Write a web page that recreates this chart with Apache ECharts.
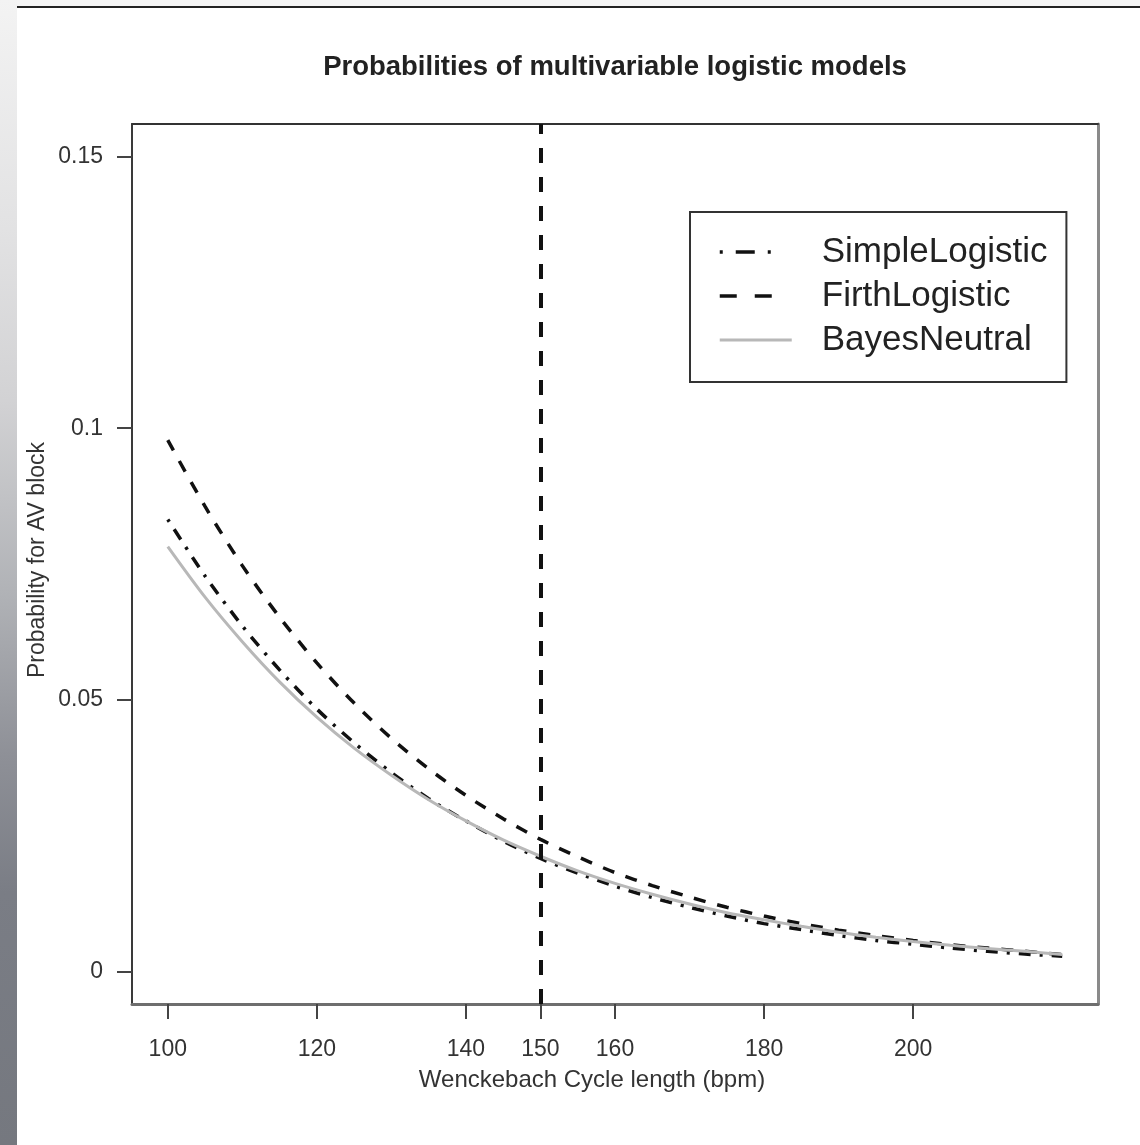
<!DOCTYPE html>
<html>
<head>
<meta charset="utf-8">
<script src="https://cdn.jsdelivr.net/npm/echarts@6/dist/echarts.min.js"></script>
<style>
  html, body { margin: 0; padding: 0; width: 1140px; height: 1145px; overflow: hidden; background: #f4f4f4; }
  #strip { position: absolute; left: 0; top: 0; width: 17px; height: 1145px;
    background: linear-gradient(to bottom, #f3f3f3 0%, #e2e2e3 20%, #d2d2d4 35%, #b0b2b6 52%, #8e9097 66%, #7a7d85 78%, #75787f 100%); }
  #paper { position: absolute; left: 17px; top: 6px; width: 1123px; height: 1139px; background: #ffffff; border-top: 2px solid #222; box-sizing: border-box; }
  #chart { position: absolute; left: 0; top: 0; width: 1140px; height: 1145px; }
</style>
</head>
<body>
<div id="strip"></div>
<div id="paper"></div>
<div id="chart"></div>
<script>
// ---- data ----
const xValues = [100,105,110,115,120,125,130,135,140,145,150,155,160,165,170,175,180,185,190,195,200,205,210,215,220];
const simpleLogistic = [0.0832,0.0728,0.0636,0.0555,0.0483,0.0421,0.0366,0.0318,0.0277,0.0240,0.0208,0.0181,0.0157,0.0136,0.0118,0.0102,0.0088,0.0077,0.0066,0.0057,0.0050,0.0043,0.0037,0.0032,0.0028];
const firthLogistic  = [0.0978,0.0856,0.0747,0.0652,0.0568,0.0494,0.0429,0.0373,0.0324,0.0281,0.0243,0.0211,0.0182,0.0158,0.0137,0.0118,0.0102,0.0088,0.0076,0.0066,0.0057,0.0049,0.0043,0.0037,0.0031];
const bayesNeutral   = [0.0782,0.0689,0.0607,0.0533,0.0468,0.0411,0.0361,0.0316,0.0277,0.0242,0.0212,0.0185,0.0162,0.0142,0.0124,0.0108,0.0095,0.0083,0.0072,0.0063,0.0055,0.0048,0.0042,0.0037,0.0031];
const xTicks = [100,120,140,150,160,180,200];
const yTicks = [0,0.05,0.1,0.15];
const cutoff = 150;
const seriesNames = ['SimpleLogistic','FirthLogistic','BayesNeutral'];
const titleText = 'Probabilities of multivariable logistic models';
const xTitle = 'Wenckebach Cycle length (bpm)';
const yTitle = 'Probability for AV block';

const pairs = arr => xValues.map((x, i) => [x, arr[i]]);
const FONT = '"Liberation Sans", Arial, Helvetica, sans-serif';

const chart = echarts.init(document.getElementById('chart'), null, { renderer: 'canvas' });
const axisBase = { type: 'value', splitLine: { show: false } };
const hiddenSymbol = { opacity: 0, borderWidth: 0 };

chart.setOption({
  animation: false,
  backgroundColor: 'transparent',
  grid: { left: 132, top: 124, width: 966, height: 880, containLabel: false, outerBoundsMode: 'none' },
  xAxis: [
    Object.assign({}, axisBase, {
      position: 'bottom', min: 95.2, max: 224.8,
      axisLine: { show: true, onZero: false, lineStyle: { color: '#6e6e6e', width: 3 } },
      axisTick: { show: true, inside: false, length: 15, customValues: xTicks, lineStyle: { color: '#444', width: 2 } },
      axisLabel: { show: true, customValues: xTicks, margin: 34, fontSize: 23, color: '#333', fontFamily: FONT }
    }),
    Object.assign({}, axisBase, {
      position: 'top', min: 95.2, max: 224.8,
      axisLine: { show: true, onZero: false, lineStyle: { color: '#333', width: 2 } },
      axisTick: { show: false }, axisLabel: { show: false }
    })
  ],
  yAxis: [
    Object.assign({}, axisBase, {
      position: 'left', min: -0.006, max: 0.156,
      axisLine: { show: true, onZero: false, lineStyle: { color: '#3a3a3a', width: 2 } },
      axisTick: { show: true, inside: false, length: 15, customValues: yTicks, lineStyle: { color: '#444', width: 2 } },
      axisLabel: { show: true, customValues: yTicks, margin: 29, fontSize: 23, color: '#333', fontFamily: FONT,
        formatter: v => String(v) }
    }),
    Object.assign({}, axisBase, {
      position: 'right', min: -0.006, max: 0.156,
      axisLine: { show: true, onZero: false, lineStyle: { color: '#8a8a8a', width: 3 } },
      axisTick: { show: false }, axisLabel: { show: false }
    })
  ],
  legend: {
    left: 690, top: 212, orient: 'vertical',
    borderColor: '#333', borderWidth: 2, backgroundColor: '#fff',
    padding: [20, 19, 22, 28],
    itemWidth: 72, itemHeight: 14, itemGap: 4,
    textStyle: { fontSize: 35, color: '#222', fontFamily: FONT, lineHeight: 40, padding: [0, 0, 0, 25] },
    data: [
      { name: seriesNames[0], itemStyle: hiddenSymbol, lineStyle: { type: [3, 13, 19, 13, 3, 40], width: 3.5, color: '#111', cap: 'butt' } },
      { name: seriesNames[1], itemStyle: hiddenSymbol, lineStyle: { type: [17, 18, 17, 40], width: 3.5, color: '#111', cap: 'butt' } },
      { name: seriesNames[2], itemStyle: hiddenSymbol, lineStyle: { type: 'solid', width: 3, color: '#b8b8b8' } }
    ]
  },
  graphic: [
    { type: 'text', x: 615, y: 67, silent: true,
      style: { text: titleText, align: 'center', verticalAlign: 'middle', fontSize: 27.5, fontWeight: 'bold', fontFamily: FONT, fill: '#222' } },
    { type: 'text', x: 592, y: 1080, silent: true,
      style: { text: xTitle, align: 'center', verticalAlign: 'middle', fontSize: 24, fontFamily: FONT, fill: '#333' } },
    { type: 'text', x: 38, y: 560, rotation: Math.PI / 2, silent: true,
      style: { text: yTitle, align: 'center', verticalAlign: 'middle', fontSize: 23, fontFamily: FONT, fill: '#333' } }
  ],
  series: [
    { name: seriesNames[0], type: 'line', data: pairs(simpleLogistic), smooth: 0.3, symbol: 'none', showSymbol: false,
      lineStyle: { type: [3, 9, 12, 9], width: 3.5, color: '#111', cap: 'butt' }, itemStyle: { color: '#111' },
      markLine: { silent: true, symbol: 'none', label: { show: false },
        lineStyle: { type: [15, 14], width: 4, color: '#111' }, data: [{ xAxis: cutoff }] } },
    { name: seriesNames[1], type: 'line', data: pairs(firthLogistic), smooth: 0.3, symbol: 'none', showSymbol: false,
      lineStyle: { type: [12, 12], width: 3.5, color: '#111', cap: 'butt' }, itemStyle: { color: '#111' } },
    { name: seriesNames[2], type: 'line', data: pairs(bayesNeutral), smooth: 0.3, symbol: 'none', showSymbol: false,
      lineStyle: { type: 'solid', width: 3, color: '#b8b8b8' }, itemStyle: { color: '#b8b8b8' } }
  ]
});
</script>
</body>
</html>
